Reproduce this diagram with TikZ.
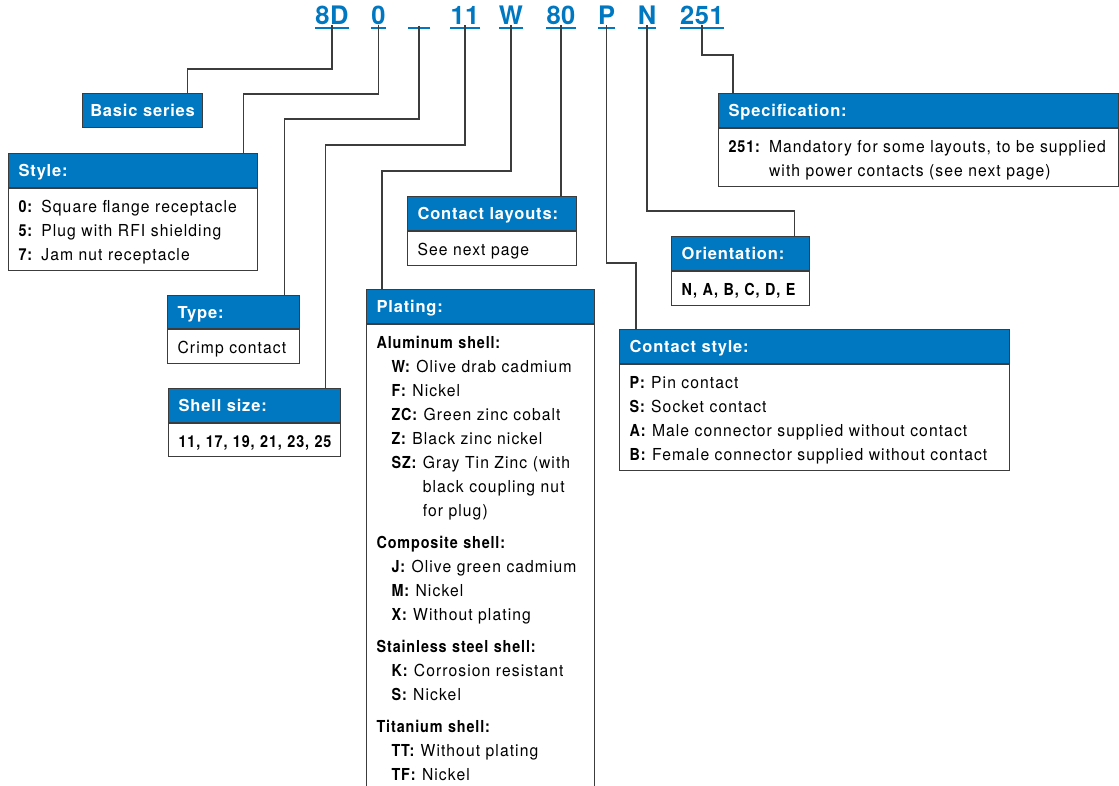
\documentclass[tikz,border=0pt]{standalone}
\usepackage{fontspec}
\setmainfont{TeX Gyre Heros}[FakeStretch=0.95, LetterSpace=6.5,
  BoldFeatures={FakeStretch=0.87, LetterSpace=5.3}]
\newfontfamily\hdrfont{TeX Gyre Heros}[LetterSpace=5]
\newfontfamily\codefont{TeX Gyre Heros}[LetterSpace=2]
\definecolor{hblue}{RGB}{0,120,193}
\definecolor{lgray}{RGB}{60,60,60}
\newcommand{\tst}{\rule{0pt}{24pt}}
\newcommand{\bst}{\rule[-10pt]{0pt}{10pt}}
\begin{document}
\begin{tikzpicture}[x=1pt,y=-1pt,
 hdr/.style={draw=lgray, line width=1.2pt, fill=hblue, text=white,
   font=\fontsize{16.5}{24}\hdrfont\bfseries, anchor=north west,
   inner xsep=10pt, inner ysep=0pt, minimum height=34pt, align=left,
   text height=12pt, text depth=0pt},
 bdy/.style={draw=lgray, line width=1.2pt, fill=white,
   font=\fontsize{16.5}{24}\selectfont, anchor=north west,
   inner xsep=10pt, inner ysep=0pt, align=left},
 code/.style={text=hblue, font=\fontsize{25.5}{30}\codefont\bfseries,
   inner sep=0pt, anchor=base},
 ul/.style={draw=hblue, line width=2pt},
 conn/.style={draw=lgray, line width=1.1pt},
]
\useasboundingbox (0,0) rectangle (1119,786);
\clip (0,0) rectangle (1119,786);

% codes
\node[code] (c8D) at (332,25) {8D};
\node[code] (c0) at (378.5,25) {0};
\node[code, minimum width=21pt] (cU) at (419,25) {};
\node[code] (c11) at (465,25) {11};
\node[code] (cW) at (511,25) {W};
\node[code] (c80) at (561,25) {80};
\node[code] (cP) at (606.5,25) {P};
\node[code] (cN) at (647,25) {N};
\node[code] (c251) at (702,25) {251};
\foreach \c in {c8D,c0,cU,c11,cW,c80,cP,cN,c251}
  \draw[ul] ([yshift=-3pt]\c.base west) -- ([yshift=-3pt]\c.base east);

% boxes
\node[hdr, text width=114pt, inner xsep=3pt, align=center] (basic) at (82,93) {Basic series};

\node[hdr, text width=229pt] (style) at (8,153) {Style:};
\node[bdy, text width=229pt] (styleb) at (style.south west)
 {\tst\textbf{0:} Square flange receptacle\\
  \textbf{5:} Plug with RFI shielding\\
  \textbf{7:} Jam nut receptacle\bst};

\node[hdr, text width=112pt, minimum height=33pt] (type) at (167,295) {Type:};
\node[bdy, text width=112pt] (typeb) at (type.south west) {\tst Crimp contact\bst};

\node[hdr, text width=152pt] (shell) at (168,388) {Shell size:};
\node[bdy, text width=152pt] (shellb) at (shell.south west)
 {\tst\mbox{\textbf{11, 17, 19, 21, 23, 25}}\rule[-9pt]{0pt}{9pt}};

\node[hdr, text width=149pt] (layouts) at (407,196) {Contact layouts:};
\node[bdy, text width=149pt] (layoutsb) at (layouts.south west) {\tst See next page\bst};

\node[hdr, text width=208pt] (plating) at (366,289) {Plating:};
\node[bdy, text width=208pt] (platingb) at (plating.south west)
 {\tst\textbf{Aluminum shell:}\\
  \hspace*{15pt}\textbf{W:} Olive drab cadmium\\
  \hspace*{15pt}\textbf{F:} Nickel\\
  \hspace*{15pt}\textbf{ZC:} Green zinc cobalt\\
  \hspace*{15pt}\textbf{Z:} Black zinc nickel\\
  \hspace*{15pt}\textbf{SZ:} Gray Tin Zinc (with\\
  \hspace*{15pt}\phantom{\textbf{SZ:} }black coupling nut\\
  \hspace*{15pt}\phantom{\textbf{SZ:} }for plug)\\[8pt]
  \textbf{Composite shell:}\\
  \hspace*{15pt}\textbf{J:} Olive green cadmium\\
  \hspace*{15pt}\textbf{M:} Nickel\\
  \hspace*{15pt}\textbf{X:} Without plating\\[8pt]
  \textbf{Stainless steel shell:}\\
  \hspace*{15pt}\textbf{K:} Corrosion resistant\\
  \hspace*{15pt}\textbf{S:} Nickel\\[8pt]
  \textbf{Titanium shell:}\\
  \hspace*{15pt}\textbf{TT:} Without plating\\
  \hspace*{15pt}\textbf{TF:} Nickel\rule[-40pt]{0pt}{40pt}};

\node[hdr, text width=370pt] (cstyle) at (619,329) {Contact style:};
\node[bdy, text width=370pt] (cstyleb) at (cstyle.south west)
 {\tst\textbf{P:} Pin contact\\
  \textbf{S:} Socket contact\\
  \textbf{A:} Male connector supplied without contact\\
  \textbf{B:} Female connector supplied without contact\bst};

\node[hdr, text width=118pt] (orient) at (671,236) {Orientation:};
\node[bdy, text width=118pt] (orientb) at (orient.south west) {\tst\mbox{\textbf{N, A, B, C, D, E}}\bst};

\node[hdr, text width=380pt] (spec) at (718,93) {Specification:};
\node[bdy, text width=380pt] (specb) at (spec.south west)
 {\tst\textbf{251:} Mandatory for some layouts, to be supplied\\
  \phantom{\textbf{251:} }with power contacts (see next page)\bst};

% connectors
\draw[conn] (c8D.south) -- (c8D.south |- 0,69) -| ([xshift=-16pt]basic.north east);
\draw[conn] (c0.south) -- (c0.south |- 0,94) -| ([xshift=-15pt]style.north east);
\draw[conn] (cU.south) -- (cU.south |- 0,119) -| ([xshift=-16pt]type.north east);
\draw[conn] (c11.south) -- (c11.south |- 0,145) -| ([xshift=-16pt]shell.north east);
\draw[conn] (cW.south) -- (cW.south |- 0,171) -| ([xshift=16pt]plating.north west);
\draw[conn] (c80.south) -- (c80.south |- layouts.north);
\draw[conn] (cP.south) -- (cP.south |- 0,263) -| ([xshift=17pt]cstyle.north west);
\draw[conn] (cN.south) -- (cN.south |- 0,211) -| ([xshift=-16pt]orient.north east);
\draw[conn] (c251.south) -- (c251.south |- 0,55) -| ([xshift=15pt]spec.north west);
\end{tikzpicture}
\end{document}
